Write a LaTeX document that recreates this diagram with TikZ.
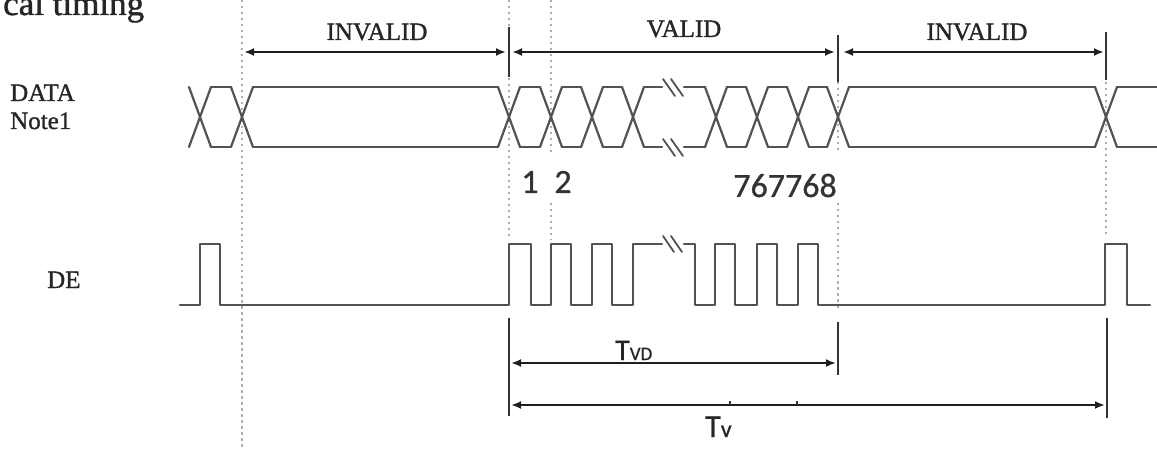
\documentclass[tikz,border=0pt]{standalone}
\usepackage{fontspec}
\setmainfont{Liberation Serif}
\newfontfamily\sigfont[FakeBold=1.2]{Liberation Serif}
\newfontfamily\numfont[FakeBold=0.8]{Carlito}
\usetikzlibrary{arrows.meta}
\begin{document}
\begin{tikzpicture}[x=1pt,y=-1pt,
  wave/.style={draw=black!68, line width=2.2pt, line cap=round, line join=round},
  guide/.style={draw=black!32, line width=1.8pt, dash pattern=on 2.5pt off 3.5pt},
  tickline/.style={draw=black!80, line width=1.8pt},
  dim/.style={draw=black!88, line width=2.2pt, {Latex[length=10pt,width=8pt]}-{Latex[length=10pt,width=8pt]}},
  sig/.style={font=\sigfont\fontsize{25}{28}\selectfont, text=black!85, inner sep=0pt},
  num/.style={font=\numfont\fontsize{34}{38}\selectfont, text=black!80, inner sep=0pt},
  tlab/.style={font=\numfont, text=black!85, inner sep=0pt}]
\useasboundingbox (0,0) rectangle (1157,449);

% title (cut off at the top, as in the reference)
\node[anchor=base west, inner sep=0pt, font=\sigfont\fontsize{35}{40}\selectfont, text=black!85] (title) at (3,15) {cal timing};

% dotted guide lines
\draw[guide] (242,0) -- (242,449);
\draw[guide] (509,0) -- (509,240);
\draw[guide] (551,0) -- (551,153);
\draw[guide] (551,203) -- (551,240);
\draw[guide] (838,82) -- (838,150);
\draw[guide] (838,203) -- (838,310);
\draw[guide] (1106,82) -- (1106,238);

% top ticks
\coordinate (tA1) at (509,27); \coordinate (tA2) at (509,77);
\coordinate (tB1) at (838,35); \coordinate (tB2) at (838,82);
\coordinate (tC1) at (1106,32); \coordinate (tC2) at (1106,80);
\draw[tickline] (tA1) -- (tA2);
\draw[tickline] (tB1) -- (tB2);
\draw[tickline] (tC1) -- (tC2);

% region arrows
\coordinate (a0) at (244,52); \coordinate (a1) at (506,52);
\coordinate (a2) at (512,52); \coordinate (a3) at (835,52);
\coordinate (a4) at (843,52); \coordinate (a5) at (1104,52);
\draw[dim] (a0) -- (a1);
\draw[dim] (a2) -- (a3);
\draw[dim] (a4) -- (a5);
\node[sig, anchor=base] (inv1) at (377,40) {INVALID};
\node[sig, anchor=base] (val) at (684,37) {VALID};
\node[sig, anchor=base] (inv2) at (977,40) {INVALID};

% signal names
\node[sig, anchor=base west] (data) at (10,101) {DATA};
\node[sig, anchor=base west] (note) at (10,129) {Note1};
\node[sig, anchor=base west] (de) at (47,288) {DE};

% DATA waveform
\foreach \c in {200,242,509,551,592,633,716,757,798,838,1106} {
  \draw[wave] (\c-11,87) -- (\c+11,147);
  \draw[wave] (\c-11,147) -- (\c+11,87);
}
\foreach \a/\b in {211/231,253/498,520/540,562/581,603/622,644/662,684/705,727/746,768/787,809/827,849/1095,1117/1157} {
  \draw[wave] (\a,87) -- (\b,87);
  \draw[wave] (\a,147) -- (\b,147);
}
% break marks on DATA
\draw[wave, line width=1.8pt] (663,79) -- (675,96);
\draw[wave, line width=1.8pt] (671,79) -- (683,96);
\draw[wave, line width=1.8pt] (663,139) -- (675,156);
\draw[wave, line width=1.8pt] (671,139) -- (683,156);

% pixel numbers
\node[num, anchor=base] (n1) at (530,193) {1};
\node[num, anchor=base] (n2) at (563,193) {2};
\node[num, anchor=base] (n768) at (785,197) {767768};

% DE waveform
\draw[wave] (180,305) -- (200,305) -- (200,244) -- (220,244) -- (220,305) -- (509,305)
  -- (509,244) -- (531,244) -- (531,305) -- (551,305) -- (551,244) -- (571,244) -- (571,305)
  -- (592,305) -- (592,244) -- (612,244) -- (612,305) -- (633,305) -- (633,244) -- (662,244);
\draw[wave] (684,244) -- (695,244) -- (695,305) -- (715,305) -- (715,244) -- (735,244) -- (735,305)
  -- (757,305) -- (757,244) -- (777,244) -- (777,305) -- (798,305) -- (798,244) -- (818,244)
  -- (818,305) -- (1105,305) -- (1105,244) -- (1127,244) -- (1127,305) -- (1150,305);
\draw[wave, line width=1.8pt] (663,236) -- (674,252);
\draw[wave, line width=1.8pt] (671,236) -- (682,252);

% timing dimension lines
\coordinate (v1a) at (509,318); \coordinate (v1b) at (509,416);
\coordinate (v2a) at (838,322); \coordinate (v2b) at (838,375);
\coordinate (v3a) at (1107,318); \coordinate (v3b) at (1107,418);
\draw[tickline] (v1a) -- (v1b);
\draw[tickline] (v2a) -- (v2b);
\draw[tickline] (v3a) -- (v3b);
\coordinate (d1) at (511,363); \coordinate (d2) at (836,363);
\coordinate (d3) at (511,405); \coordinate (d4) at (1105,405);
\draw[dim] (d1) -- (d2);
\draw[dim] (d3) -- (d4);
\draw[tickline, line width=1.2pt] (730,405) -- (730,401);
\draw[tickline, line width=1.2pt] (797,405) -- (797,401);
\node[tlab, anchor=base west] (tvd) at (615,360) {\fontsize{30}{32}\selectfont T\fontsize{19}{20}\selectfont VD};
\node[tlab, anchor=base west] (tv) at (705,437) {\fontsize{32}{34}\selectfont T\fontsize{24}{26}\selectfont v};
\end{tikzpicture}
\end{document}
